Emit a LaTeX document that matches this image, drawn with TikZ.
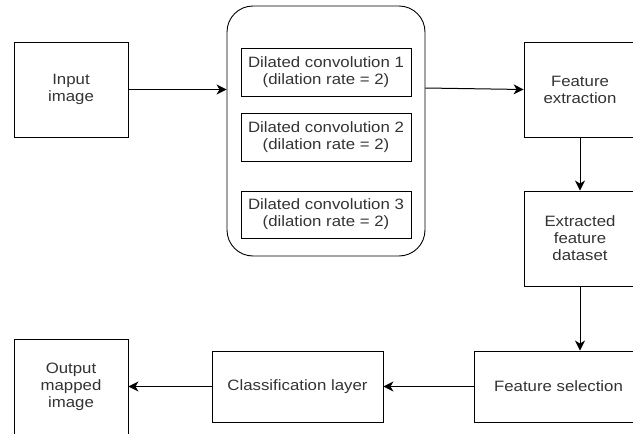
\documentclass[tikz,border=0pt]{standalone}
\usepackage{fontspec}
\setmainfont[FakeStretch=1.12]{Liberation Sans}
\usetikzlibrary{arrows.meta}
\definecolor{txt}{HTML}{333333}
\tikzset{
  box/.style={draw=black, line width=0.9pt, rectangle, align=center, inner sep=0pt,
    text=txt, font=\fontsize{15}{17}\selectfont},
  conn/.style={draw=black, line width=1pt, -{Stealth[length=10pt,width=10pt,inset=3pt]}},
}
\begin{document}
\begin{tikzpicture}[x=1pt,y=-1pt]
\useasboundingbox (0,0) rectangle (633,434);
\clip (0,0) rectangle (633,434);
\node[box, minimum width=114pt, minimum height=95pt] (inp) at (71,89.5) {Input\\image};
\node[box, rounded corners=26pt, minimum width=198pt, minimum height=250pt] (grp) at (326,131) {};
\node[box, minimum width=170pt, minimum height=48pt] (c1) at (326,72) {Dilated convolution 1\\(dilation rate = 2)};
\node[box, minimum width=170pt, minimum height=48pt] (c2) at (326,137) {Dilated convolution 2\\(dilation rate = 2)};
\node[box, minimum width=170pt, minimum height=47pt] (c3) at (326,214.5) {Dilated convolution 3\\(dilation rate = 2)};
\node[box, minimum width=112pt, minimum height=95pt] (fe) at (580,89.5) {Feature\\extraction};
\node[box, minimum width=112pt, minimum height=95pt] (efd) at (580,238.5) {Extracted\\feature\\dataset};
\node[box, minimum width=169pt, minimum height=71pt] (fs) at (558.5,386.5) {Feature selection};
\node[box, minimum width=171pt, minimum height=71pt] (cl) at (297.5,386.5) {Classification layer};
\node[box, minimum width=114pt, minimum height=96pt] (out) at (71,387) {Output\\mapped\\image};
\draw[conn] (inp.east) -- (inp.east -| grp.west);
\draw[conn] (grp.east |- 0,88) -- (fe.west);
\draw[conn] (fe.south) -- (efd.north);
\draw[conn] (efd.south) -- (efd.south |- fs.north);
\draw[conn] (fs.west) -- (cl.east);
\draw[conn] (cl.west) -- (cl.west -| out.east);
\end{tikzpicture}
\end{document}
